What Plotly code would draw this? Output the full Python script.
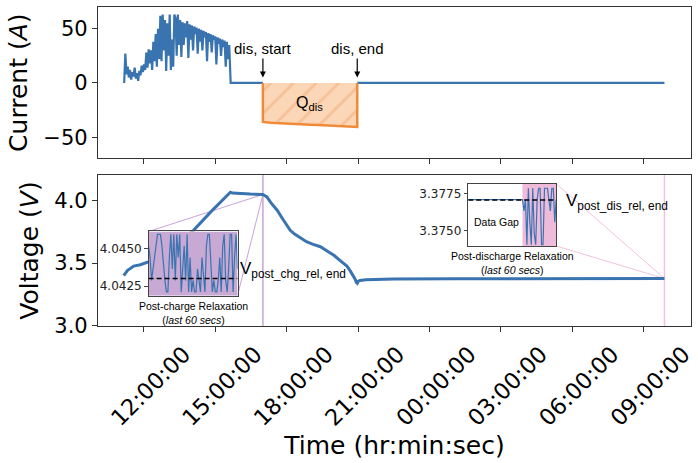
import pandas as pd
import plotly.graph_objects as go

# ---------------- data ----------------
# charge current (A), sampled evenly between charge start and end
chg_start, chg_end = "2023-06-01 11:10:00", "2023-06-01 15:38:00"
chg_current = [0, 27, 8, 15, 5, 12, 3, 10, 6, 14, 4, 9, 2, 11, 7, 16, 10, 17, 12,
               28, 14, 31, 18, 30, 12, 38, 20, 45, 15, 50, 22, 62,
               20, 63, 30, 58, 11, 55, 25, 63, 12, 40, 15, 63, 60, 25, 63, 35, 58, 24,
               56, 35, 55, 42, 57, 23, 54, 40, 53, 30, 52, 45, 51, 27, 50, 38, 49,
               30, 48, 42, 47, 20, 46, 38, 45, 28, 44, 40, 43, 17, 42, 36, 41, 25, 40, 33, 39,
               15, 38, 22, 35, 11]

rest1_times = ["2023-06-01 15:38:40", "2023-06-01 17:00:00"]
rest1_current = [0, 0]

dis_start, dis_end = "2023-06-01 17:00:00", "2023-06-01 20:58:00"
dis_current = [-36.0, -36.8, -37.3, -37.7, -38.0, -38.3, -38.6, -38.9, -39.2,
               -39.5, -39.8, -40.2, -40.6]

rest2_times = ["2023-06-01 20:58:00", "2023-06-02 09:53:00"]
rest2_current = [0, 0]

# voltage (V)
v_times = ["2023-06-01 11:09", "2023-06-01 11:18", "2023-06-01 11:34", "2023-06-01 11:51",
           "2023-06-01 12:11", "2023-06-01 12:42", "2023-06-01 13:20", "2023-06-01 14:05",
           "2023-06-01 14:48", "2023-06-01 15:13", "2023-06-01 15:38", "2023-06-01 15:43",
           "2023-06-01 16:03", "2023-06-01 16:28", "2023-06-01 17:00", "2023-06-01 17:05",
           "2023-06-01 17:10", "2023-06-01 17:20", "2023-06-01 17:36", "2023-06-01 17:50",
           "2023-06-01 18:09", "2023-06-01 18:20", "2023-06-01 18:34", "2023-06-01 18:50",
           "2023-06-01 19:05", "2023-06-01 19:25", "2023-06-01 19:45", "2023-06-01 20:00",
           "2023-06-01 20:15", "2023-06-01 20:32", "2023-06-01 20:40", "2023-06-01 20:48",
           "2023-06-01 20:53", "2023-06-01 20:56", "2023-06-01 20:58", "2023-06-01 21:00",
           "2023-06-01 21:05", "2023-06-01 21:20", "2023-06-01 21:45", "2023-06-01 22:30",
           "2023-06-02 01:00", "2023-06-02 04:00", "2023-06-02 07:00", "2023-06-02 09:53"]
v_values = [3.40, 3.44, 3.476, 3.487,
            3.51, 3.56, 3.64, 3.76,
            3.905, 3.98, 4.063, 4.056,
            4.051, 4.048, 4.045, 4.035,
            4.026, 3.98, 3.92, 3.85,
            3.76, 3.73, 3.70, 3.67,
            3.65, 3.63, 3.59, 3.56,
            3.52, 3.476, 3.44, 3.40,
            3.37, 3.345, 3.34, 3.355,
            3.362, 3.368, 3.372, 3.374,
            3.376, 3.377, 3.377, 3.377]

# inset: last 60 s of post-charge relaxation
pc_secs = list(range(61))
pc_volt = [4.04516, 4.04440, 4.04288, 4.04364, 4.04440, 4.04516, 4.04593, 4.04593, 4.04593, 4.04516,
           4.04364, 4.04288, 4.04212, 4.04212, 4.04440, 4.04593, 4.04364, 4.04593, 4.04288, 4.04593,
           4.04440, 4.04593, 4.04212, 4.04364, 4.04516, 4.04288, 4.04593, 4.04212, 4.04440, 4.04212,
           4.04288, 4.04212, 4.04212, 4.04364, 4.04288, 4.04212, 4.04440, 4.04288, 4.04212, 4.04516,
           4.04593, 4.04593, 4.04364, 4.04212, 4.04288, 4.04212, 4.04212, 4.04288, 4.04440, 4.04212,
           4.04516, 4.04593, 4.04288, 4.04212, 4.04364, 4.04593, 4.04593, 4.04212, 4.04440, 4.04593,
           4.04364]
pc_end_v = 4.0430

# inset: last 60 s of post-discharge relaxation (with data gap)
pd_secs = [0] + list(range(37, 61))
pd_volt = [3.37708, 3.37708, 3.37632, 3.37708, 3.37403, 3.37785, 3.37556, 3.37403, 3.37785,
           3.37479, 3.37403, 3.37708, 3.37785, 3.37785, 3.37403, 3.37403, 3.37785, 3.37785,
           3.37785, 3.37708, 3.37632, 3.37785, 3.37785, 3.37556, 3.37708]
pd_end_v = 3.37705
pd_gap_end = 37

tick_times = ["2023-06-01 12:00", "2023-06-01 15:00", "2023-06-01 18:00", "2023-06-01 21:00",
              "2023-06-02 00:00", "2023-06-02 03:00", "2023-06-02 06:00", "2023-06-02 09:00"]

# ---------------- layout constants ----------------
W, H = 698, 463
x_range = ["2023-06-01 10:04:00", "2023-06-02 11:00:00"]
i_range = [-69.5, 70]
v_range = [3.0, 4.2]
dom_i = [0.5257, 1.0]
dom_v = [0.0, 0.4734]

inset1_t = ["2023-06-01 12:11:40", "2023-06-01 15:56:00"]
inset1_v = [3.241, 3.751]
inset2_t = ["2023-06-02 01:38:00", "2023-06-02 05:20:00"]
inset2_v = [3.636, 4.130]
pc_range = [4.04187, 4.04612]
pd_range = [3.37395, 3.37815]

BLUE = "#3a74b0"
ORANGE = "#f08a38"
PURPLE_LINE = "#c9a3d7"
PURPLE_FILL = "#c7a9d4"
PINK_LINE = "#f3c1df"
PINK_FILL = "#efbbdb"
FRAME = "#333333"
TICKFONT = "DejaVu Sans"
TXTFONT = "Liberation Sans, Arial"

x_lo, x_hi = pd.Timestamp(x_range[0]), pd.Timestamp(x_range[1])


def fx(t):
    return float((pd.Timestamp(t) - x_lo) / (x_hi - x_lo))


def fy(v):
    return dom_v[0] + (v - v_range[0]) / (v_range[1] - v_range[0]) * (dom_v[1] - dom_v[0])


chg_times = list(pd.date_range(chg_start, chg_end, periods=len(chg_current)))
dis_times = list(pd.date_range(dis_start, dis_end, periods=len(dis_current)))

fig = go.Figure()

# current
fig.add_trace(go.Scatter(x=chg_times + [pd.Timestamp(t) for t in rest1_times],
                         y=chg_current + rest1_current, mode="lines",
                         line=dict(color=BLUE, width=2.2), xaxis="x", yaxis="y",
                         showlegend=False))
fig.add_trace(go.Scatter(x=rest2_times, y=rest2_current, mode="lines",
                         line=dict(color=BLUE, width=2.2), xaxis="x", yaxis="y",
                         showlegend=False))
fig.add_trace(go.Scatter(x=[pd.Timestamp(dis_start)] + dis_times + [pd.Timestamp(dis_end)],
                         y=[0] + dis_current + [0], mode="lines",
                         line=dict(color=ORANGE, width=2.5), fill="tozeroy",
                         fillcolor="#fbd7b8",
                         fillpattern=dict(shape="/", fgcolor="#f2ab74", bgcolor="#fbd7b8",
                                          size=16, solidity=0.18),
                         xaxis="x", yaxis="y", showlegend=False))

# voltage
fig.add_trace(go.Scatter(x=v_times, y=v_values, mode="lines",
                         line=dict(color=BLUE, width=3), xaxis="x2", yaxis="y2",
                         showlegend=False))

# insets
fig.add_trace(go.Scatter(x=pc_secs, y=pc_volt, mode="lines",
                         line=dict(color=BLUE, width=1.2), xaxis="x3", yaxis="y3",
                         showlegend=False))
fig.add_trace(go.Scatter(x=pd_secs, y=pd_volt, mode="lines",
                         line=dict(color=BLUE, width=1.2), xaxis="x4", yaxis="y4",
                         showlegend=False))

main_axis = dict(showline=True, linecolor=FRAME, linewidth=1.2, mirror=True,
                 ticks="outside", ticklen=5, tickwidth=1.2, tickcolor=FRAME,
                 showgrid=False, zeroline=False, automargin=False,
                 tickfont=dict(family=TICKFONT, size=21, color="#000"))
inset_axis = dict(showline=True, linecolor="#444", linewidth=1, mirror=True,
                  showgrid=False, zeroline=False, automargin=False)
title_font = dict(family=TICKFONT, size=25, color="#000")

fig.update_layout(
    width=W, height=H,
    margin=dict(l=97.5, r=7, t=7, b=137, autoexpand=False),
    paper_bgcolor="white", plot_bgcolor="white",
    xaxis=dict(main_axis, type="date", range=x_range, domain=[0, 1], anchor="y",
               tickvals=tick_times, showticklabels=False),
    yaxis=dict(main_axis, range=i_range, domain=dom_i, anchor="x",
               tickvals=[-50, 0, 50], ticktext=["\u221250", "0", "50"],
               title=dict(text="Current (<i>A</i>)", standoff=8, font=title_font)),
    xaxis2=dict(main_axis, type="date", range=x_range, domain=[0, 1], anchor="y2",
                matches="x", tickvals=tick_times, tickformat="%H:%M:%S", tickangle=-45,
                ticklabelshift=40,
                tickfont=dict(family=TICKFONT, size=22.5, color="#000"),
                title=dict(text="Time (hr:min:sec)", standoff=3, font=title_font)),
    yaxis2=dict(main_axis, range=v_range, domain=dom_v, anchor="x2",
                tickvals=[3.0, 3.5, 4.0], ticktext=["3.0", "3.5", "4.0"],
                title=dict(text="Voltage (<i>V</i>)", standoff=8, font=title_font)),
    xaxis3=dict(inset_axis, range=[pc_secs[0], pc_secs[-1]], anchor="y3",
                domain=[fx(inset1_t[0]), fx(inset1_t[1])], showticklabels=False, ticks=""),
    yaxis3=dict(inset_axis, range=pc_range, anchor="x3",
                domain=[fy(inset1_v[0]), fy(inset1_v[1])],
                tickvals=[4.0425, 4.0450], ticktext=["4.0425", "4.0450"],
                ticks="outside", ticklen=3.5, tickcolor="#444",
                tickfont=dict(family=TICKFONT, size=12, color="#222")),
    xaxis4=dict(inset_axis, range=[pd_secs[0], pd_secs[-1]], anchor="y4",
                domain=[fx(inset2_t[0]), fx(inset2_t[1])], showticklabels=False, ticks=""),
    yaxis4=dict(inset_axis, range=pd_range, anchor="x4",
                domain=[fy(inset2_v[0]), fy(inset2_v[1])],
                tickvals=[3.3750, 3.3775], ticktext=["3.3750", "3.3775"],
                ticks="outside", ticklen=3.5, tickcolor="#444",
                tickfont=dict(family=TICKFONT, size=12, color="#222")),
)

shapes = []
# vertical markers in the voltage panel
for t, c in [(dis_start, PURPLE_LINE), (rest2_times[-1], PINK_LINE)]:
    shapes.append(dict(type="line", xref="paper", yref="paper", x0=fx(t), x1=fx(t),
                       y0=dom_v[0], y1=dom_v[1], line=dict(color=c, width=1.5), layer="below"))
# connectors
tgt1 = (fx(dis_start), fy(4.045))
tgt2 = (fx(rest2_times[-1]), fy(3.377))
for (x0, y0), tgt, c in [((fx(inset1_t[0]), fy(inset1_v[1])), tgt1, PURPLE_LINE),
                         ((fx(inset1_t[1]), fy(inset1_v[0])), tgt1, PURPLE_LINE),
                         ((fx(inset2_t[1]), fy(inset2_v[1])), tgt2, PINK_LINE),
                         ((fx(inset2_t[1]), fy(inset2_v[0])), tgt2, PINK_LINE)]:
    shapes.append(dict(type="line", xref="paper", yref="paper", x0=x0, y0=y0,
                       x1=tgt[0], y1=tgt[1], line=dict(color=c, width=1), layer="below"))
# inset backgrounds
shapes.append(dict(type="rect", xref="x3", yref="y3", x0=pc_secs[0], x1=pc_secs[-1],
                   y0=pc_range[0], y1=pc_range[1], fillcolor=PURPLE_FILL,
                   line=dict(width=0), layer="below"))
shapes.append(dict(type="rect", xref="x4", yref="y4", x0=pd_secs[0], x1=pd_secs[-1],
                   y0=pd_range[0], y1=pd_range[1], fillcolor="white",
                   line=dict(width=0), layer="below"))
shapes.append(dict(type="rect", xref="x4", yref="y4", x0=pd_gap_end, x1=pd_secs[-1],
                   y0=pd_range[0], y1=pd_range[1], fillcolor=PINK_FILL,
                   line=dict(width=0), layer="below"))
# dashed end-value lines
shapes.append(dict(type="line", xref="x3", yref="y3", x0=pc_secs[0], x1=pc_secs[-1],
                   y0=pc_end_v, y1=pc_end_v, line=dict(color="black", width=1.5, dash="5px,3px")))
shapes.append(dict(type="line", xref="x4", yref="y4", x0=pd_secs[0], x1=pd_secs[-1],
                   y0=pd_end_v, y1=pd_end_v, line=dict(color="black", width=1.5, dash="5px,3px")))
fig.update_layout(shapes=shapes)

ann_font = dict(family=TXTFONT, size=15, color="#000")
cap_font = dict(family=TXTFONT, size=10.5, color="#000")
annotations = [
    dict(x=dis_start, y=5, xref="x", yref="y", text="dis, start", showarrow=True,
         ax=0, ay=-29, arrowhead=2, arrowsize=1, arrowwidth=1.2, arrowcolor="#000",
         font=ann_font),
    dict(x=dis_end, y=5, xref="x", yref="y", text="dis, end", showarrow=True,
         ax=0, ay=-29, arrowhead=2, arrowsize=1, arrowwidth=1.2, arrowcolor="#000",
         font=ann_font),
    dict(x="2023-06-01 18:58", y=-19, xref="x", yref="y", text="Q<sub>dis</sub>",
         showarrow=False, font=dict(family=TXTFONT, size=16, color="#000")),
    dict(x=(pc_secs[0] + pc_secs[-1]) / 2, y=pc_range[0], xref="x3", yref="y3",
         yanchor="top", yshift=-2,
         text="Post-charge Relaxation<br>(<i>last 60 secs</i>)", showarrow=False,
         font=cap_font),
    dict(x=(pd_secs[0] + pd_secs[-1]) / 2, y=pd_range[0], xref="x4", yref="y4",
         yanchor="top", yshift=-2,
         text="Post-discharge Relaxation<br>(<i>last 60 secs</i>)", showarrow=False,
         font=cap_font),
    dict(x=19, y=3.3756, xref="x4", yref="y4", text="Data Gap",
         showarrow=False, font=cap_font),
    dict(x=pc_secs[-1], y=pc_end_v, xref="x3", yref="y3", xanchor="left", yanchor="middle",
         xshift=0, yshift=9, text="V<sub>post_chg_rel, end</sub>", showarrow=False,
         font=dict(family=TXTFONT, size=17, color="#000")),
    dict(x=pd_secs[-1], y=pd_end_v, xref="x4", yref="y4", xanchor="left", yanchor="middle",
         xshift=8, yshift=-2, text="V<sub>post_dis_rel, end</sub>", showarrow=False,
         font=dict(family=TXTFONT, size=17, color="#000")),
]
fig.update_layout(annotations=annotations)

fig.write_html("out.html")
